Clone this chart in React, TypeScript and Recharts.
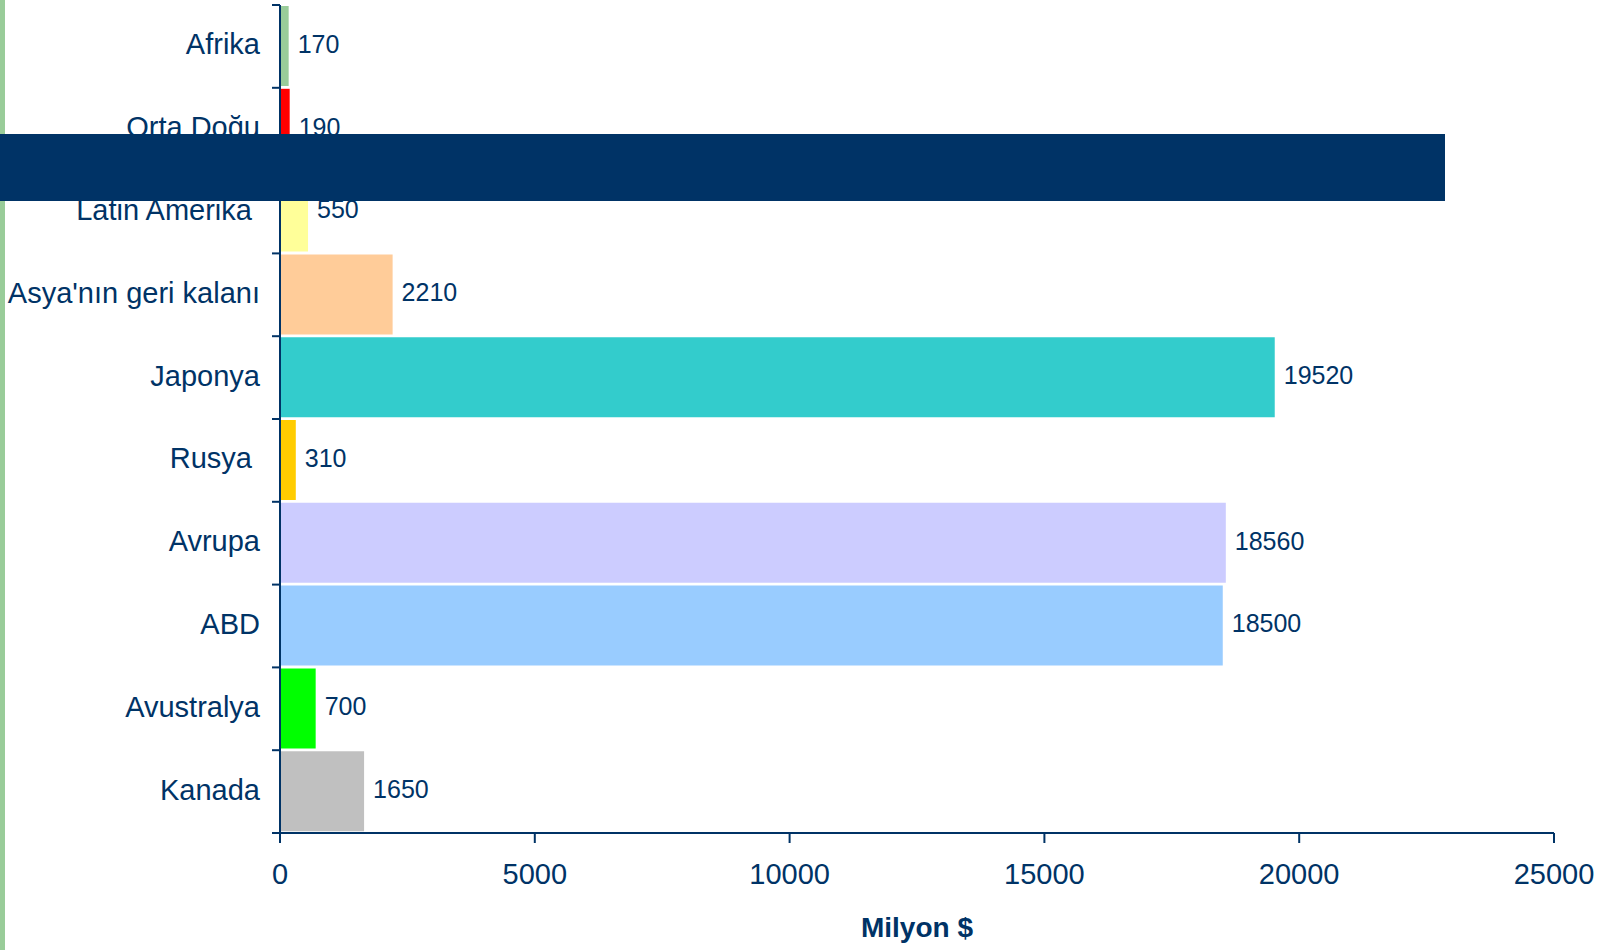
import { BarChart, Bar, XAxis, YAxis, Cell, LabelList } from 'recharts';

const categories = [
  'Afrika',
  'Orta Doğu',
  'Latin Amerika\u00a0',
  "Asya'nın geri kalanı",
  'Japonya',
  'Rusya\u00a0',
  'Avrupa',
  'ABD',
  'Avustralya',
  'Kanada',
];
const values = [170, 190, 550, 2210, 19520, 310, 18560, 18500, 700, 1650];
const colors = [
  '#99CC99',
  '#FF0000',
  '#FFFF99',
  '#FFCC99',
  '#33CCCC',
  '#FFCC00',
  '#CCCCFF',
  '#99CCFF',
  '#00FF00',
  '#C0C0C0',
];
const xTicks = [0, 5000, 10000, 15000, 20000, 25000];

const data = categories.map((name, i) => ({ name, value: values[i] }));

const NAVY = '#003366';
const W = 1616;
const H = 950;
const AXIS_X = 280;
const TOP = 5;
const BOTTOM = 117;
const BAND = (H - TOP - BOTTOM) / categories.length;

const YTick = (props: any) => {
  const { y, payload, index } = props;
  return (
    <g>
      <text
        x={AXIS_X - 20}
        y={y}
        dy={-2}
        textAnchor="end"
        dominantBaseline="central"
        fill={NAVY}
        fontSize={29}
      >
        {payload.value}
      </text>
      <line x1={AXIS_X - 8} x2={AXIS_X} y1={y + BAND / 2} y2={y + BAND / 2} stroke={NAVY} strokeWidth={2} />
      {index === 0 && (
        <line x1={AXIS_X - 8} x2={AXIS_X} y1={y - BAND / 2} y2={y - BAND / 2} stroke={NAVY} strokeWidth={2} />
      )}
    </g>
  );
};

const App = () => {
  return (
    <div
      style={{
        position: 'absolute',
        left: 0,
        top: 0,
        width: W,
        height: H,
        background: '#fff',
        fontFamily: '"Liberation Sans", Arial, sans-serif',
      }}
    >
      <BarChart
        width={W}
        height={H}
        data={data}
        layout="vertical"
        margin={{ top: TOP, right: W - 1554, left: 0, bottom: 0 }}
      >
        <XAxis
          type="number"
          domain={[0, 25000]}
          ticks={xTicks}
          height={BOTTOM}
          axisLine={{ stroke: NAVY, strokeWidth: 2 }}
          tickLine={{ stroke: NAVY, strokeWidth: 2 }}
          tickSize={10}
          tickMargin={20}
          tick={{ fill: NAVY, fontSize: 29 }}
          label={{
            value: 'Milyon $',
            position: 'insideBottom',
            offset: 13,
            fill: NAVY,
            fontSize: 28,
            fontWeight: 'bold',
          }}
        />
        <YAxis
          type="category"
          dataKey="name"
          width={AXIS_X}
          interval={0}
          axisLine={{ stroke: NAVY, strokeWidth: 2 }}
          tickLine={false}
          tick={<YTick />}
        />
        <Bar dataKey="value" barSize={80} isAnimationActive={false}>
          {data.map((d, i) => (
            <Cell key={d.name} fill={colors[i]} />
          ))}
          <LabelList
            dataKey="value"
            position="right"
            offset={9}
            fill={NAVY}
            fontSize={25}
            dy={-2}
          />
        </Bar>
      </BarChart>
      <div style={{ position: 'absolute', left: 0, top: 0, width: 5, height: H, background: '#99CC99' }} />
      <div style={{ position: 'absolute', left: 0, top: 134, width: 1445, height: 67, background: NAVY }} />
    </div>
  );
};

export default App;
